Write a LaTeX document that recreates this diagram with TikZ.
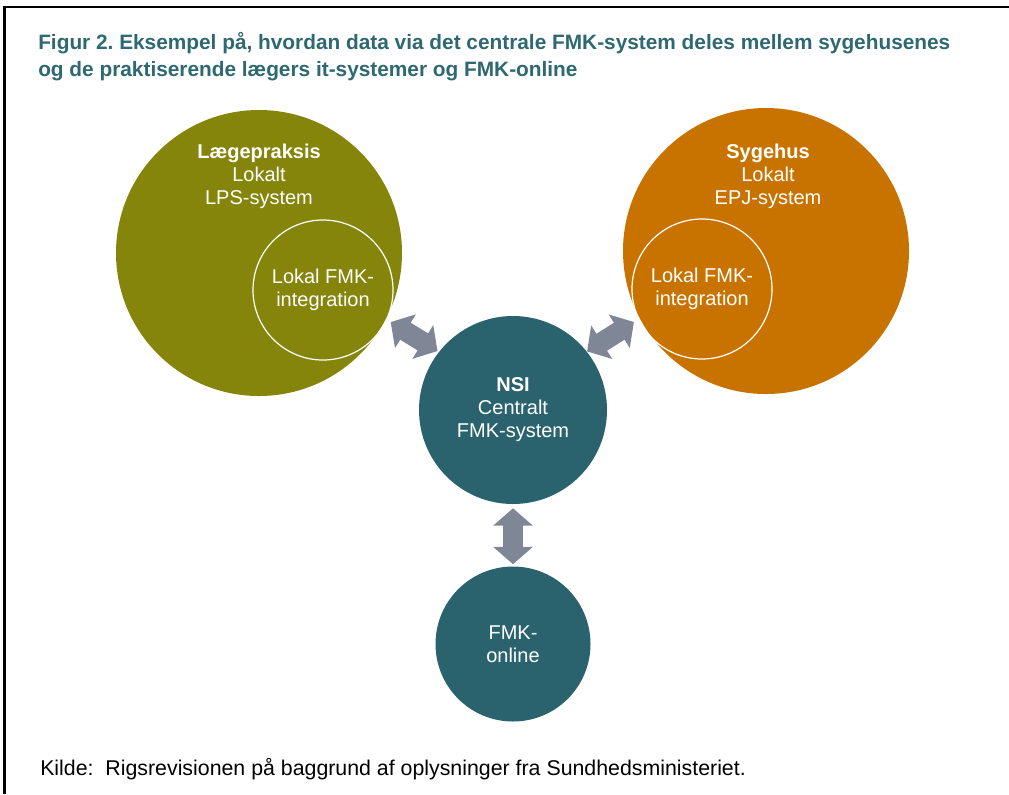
\documentclass[tikz,border=0pt]{standalone}
\usepackage{fontspec}
\setmainfont{Liberation Sans}
\usetikzlibrary{arrows.meta, positioning}
\definecolor{Olive}{RGB}{132, 133, 10}
\definecolor{Amber}{RGB}{200, 115, 0}
\definecolor{Petrol}{RGB}{42, 99, 109}
\definecolor{ArrowGrey}{RGB}{127, 135, 151}
\definecolor{TitleTeal}{RGB}{46, 104, 112}
\frenchspacing

\begin{document}
\begin{tikzpicture}[x=0.75pt, y=-0.75pt,
        disc/.style={circle, inner sep=0pt, text=white, align=center, font=\fontsize{15}{17.25}\selectfont},
        bigdisc/.style={disc, minimum size=214.5pt},
        subdisc/.style={disc, draw=white, line width=0.9pt, minimum size=105pt},
        hubdisc/.style={disc, fill=Petrol},
        flow/.style={ArrowGrey, line width=15pt, {Triangle[length=13pt, width=29pt]}-{Triangle[length=13pt, width=29pt]}}]

    \useasboundingbox (0,0) rectangle (1009,794);

    % Frame
    \draw[line width=1.8pt] (4.5,794) -- (4.5,6.8) -- (1009,6.8);

    % Title
    \node[anchor=base west, align=left, inner sep=0pt, text=TitleTeal, font=\bfseries\fontsize{15.62}{20.25}\selectfont] (title) at (38,76)
        {Figur 2. Eksempel på, hvordan data via det centrale FMK-system deles mellem sygehusenes\\
         og de praktiserende lægers it-systemer og FMK-online};

    % Big circles
    \node[bigdisc, fill=Olive] (lps) at (259,253) {};
    \node[bigdisc, fill=Amber] (epj) at (766,251) {};
    \node[disc, anchor=center] (lpstext) at (259,176) {\textbf{Lægepraksis}\\Lokalt\\LPS-system};
    \node[disc, anchor=center] (epjtext) at (768,176) {\textbf{Sygehus}\\Lokalt\\EPJ-system};

    % Local integrations
    \node[subdisc] (lpsfmk) at (323,290) {Lokal FMK-\\integration};
    \node[subdisc] (epjfmk) at (702,289) {Lokal FMK-\\integration};

    % Central system and online
    \node[hubdisc, minimum size=141pt] (nsi) at (513,410) {\textbf{NSI}\\Centralt\\FMK-system};
    \node[hubdisc, minimum size=116.25pt] (online) at (513,644) {FMK-\\online};

    % Arrows
    \draw[flow, shorten <=2.5pt, shorten >=2pt, transform canvas={shift={(7,-8)}}] (lps) -- (nsi);
    \draw[flow, shorten <=2.5pt, shorten >=2pt, transform canvas={shift={(-8,-7)}}] (epj) -- (nsi);
    \draw[flow, shorten <=3pt, shorten >=1.5pt] (nsi) -- (online);

    % Source
    \node[anchor=base west, inner sep=0pt, font=\fontsize{16}{18}\selectfont] (source) at (40,775)
        {Kilde:\ \ Rigsrevisionen på baggrund af oplysninger fra Sundhedsministeriet.};
\end{tikzpicture}
\end{document}
